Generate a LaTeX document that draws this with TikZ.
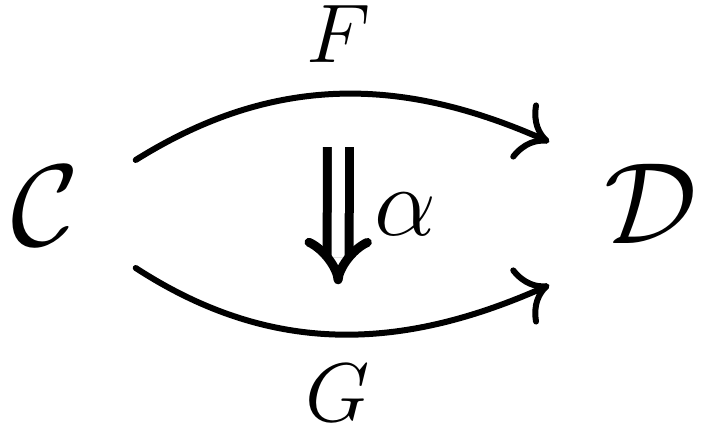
\RequirePackage{fix-cm}
\documentclass[tikz,border=0pt]{standalone}
\usepackage{tikz}
\usetikzlibrary{arrows.meta,positioning,calc}

\begin{document}
\begin{tikzpicture}[
  obj/.style={rectangle, inner sep=0pt, font=\fontsize{33}{40}\selectfont},
  lbl/.style={inner sep=0pt, font=\fontsize{23.7}{28}\selectfont},
  arr/.style={-{Computer Modern Rightarrow[length=0.3cm, width=0.62cm]},
              line width=0.06cm, line cap=round},
  nat/.style={-{Implies[scale=1.35]}, line width=0.09cm,
              double, double distance=0.13cm}
]
\useasboundingbox (0,0) rectangle (7.08,4.34);

%% objects
\node[obj, minimum width=1.8cm]  (C) at (0.45,2.28) {$\mathcal{C}$};
\node[obj, minimum width=2.02cm] (D) at (6.51,2.30) {$\mathcal{D}$};

%% functors
\draw[arr] ([yshift=0.46cm]C.east) to[out=32,in=156]
  coordinate[pos=0.5] (Fm)
  node[lbl, pos=0.5, above=0.29cm] (F) {$F$}
  ([yshift=0.62cm]D.west);
\draw[arr] ([yshift=-0.62cm]C.east) to[out=-33,in=204]
  coordinate[pos=0.5] (Gm)
  node[lbl, pos=0.5, below=0.27cm] (G) {$G$}
  ([yshift=-0.81cm]D.west);

%% transformation
\draw[nat, shorten <=0.53cm, shorten >=0.5cm] (Fm) -- (Gm)
  node[lbl, midway, right=0.32cm, font=\fontsize{28}{32}\selectfont] (alpha) {$\alpha$};
\end{tikzpicture}
\end{document}
